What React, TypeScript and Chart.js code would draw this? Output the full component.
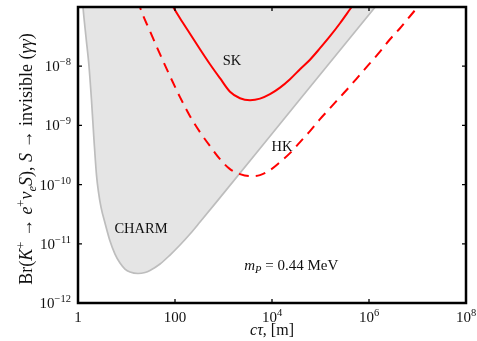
import React, { useEffect, useRef } from "react";
import { Chart, registerables } from "chart.js";

Chart.register(...registerables);

// ---- data ----
const charmX = [1.153, 1.268, 1.462, 1.686, 1.898, 2.138, 2.407, 2.646, 2.98, 3.604, 4.57, 5.79, 7.35, 9.31, 11.81, 17.27, 24.07, 30.5, 49.1, 78.9, 126.8, 203.9, 327.7, 770, 3.78e4, 1.33e6, 2.14e6];
const charmY = [2.83e-7, 9.9e-8, 3.09e-8, 1.0e-8, 2.67e-9, 5.64e-10, 1.445e-10, 7.47e-11, 4.17e-11, 2.24e-11, 1.112e-11, 6.71e-12, 4.73e-12, 3.75e-12, 3.34e-12, 3.15e-12, 3.27e-12, 3.54e-12, 4.55e-12, 6.46e-12, 9.53e-12, 1.461e-11, 2.33e-11, 5.47e-11, 2.77e-9, 9.9e-8, 1.61e-7];

const skX = [71.7, 90.9, 126.8, 203.9, 327.7, 526.7, 847, 1361, 2188, 3520, 5657, 9096, 1.462e4, 2.35e4, 3.78e4, 6.07e4, 9.77e4, 1.571e5, 2.525e5, 4.06e5, 6.52e5];
const skY = [1.406e-7, 1.01e-7, 6.46e-8, 3.54e-8, 1.936e-8, 1.081e-8, 6.27e-9, 3.71e-9, 2.88e-9, 2.67e-9, 2.83e-9, 3.37e-9, 4.34e-9, 6.03e-9, 8.9e-9, 1.288e-8, 2.012e-8, 3.21e-8, 5.32e-8, 9.16e-8, 1.579e-7];

const hkX = [17.27, 18.98, 30.5, 49.1, 78.9, 126.8, 203.9, 327.7, 526.7, 847, 1361, 2188, 3520, 5657, 9096, 1.462e4, 2.35e4, 3.78e4, 6.07e4, 9.77e4, 1.571e5, 2.525e5, 4.06e5, 6.52e5, 1.049e6, 1.686e6, 2.71e6, 4.36e6, 7.0e6, 1.126e7];
const hkY = [1.3e-7, 9.9e-8, 3.9e-8, 1.594e-8, 6.78e-9, 3.0e-9, 1.432e-9, 7.69e-10, 4.47e-10, 2.69e-10, 1.827e-10, 1.503e-10, 1.391e-10, 1.445e-10, 1.757e-10, 2.4e-10, 3.4e-10, 5.22e-10, 8.0e-10, 1.275e-9, 1.954e-9, 3.0e-9, 4.6e-9, 7.19e-9, 1.124e-8, 1.757e-8, 2.855e-8, 4.38e-8, 6.98e-8, 1.112e-7];

const xTicks = [1, 100, 1e4, 1e6, 1e8];
const xTickBase = ["1", "100", "10", "10", "10"];
const xTickExp = ["", "", "4", "6", "8"];
const yTicks = [1e-12, 1e-11, 1e-10, 1e-9, 1e-8, 1e-7];
const yTickBase = ["10", "10", "10", "10", "10", ""];
const yTickExp = ["−12", "−11", "−10", "−9", "−8", ""];

// annotation anchors in data coordinates
const labelSK = { x: 1500, y: 1.26e-8 };
const labelHK = { x: 1.6e4, y: 4.5e-10 };
const labelCHARM = { x: 19.9, y: 1.85e-11 };
const labelMass = { x: 2.5e4, y: 4.2e-12 };

const FONT = '"Liberation Serif", "DejaVu Serif", serif';

type Seg = { t: string; it?: boolean; sup?: boolean; sub?: boolean };

function segFont(s: Seg, size: number) {
  const sz = s.sup || s.sub ? size * 0.7 : size;
  return `${s.it ? "italic " : ""}${sz}px ${FONT}`;
}

// draws rich text on the alphabetic baseline y; align: 'center' | 'right'
function drawRich(ctx: CanvasRenderingContext2D, segs: Seg[], x: number, y: number, size: number, align = "center") {
  let total = 0;
  const widths = segs.map((s) => {
    ctx.font = segFont(s, size);
    const w = ctx.measureText(s.t).width;
    total += w;
    return w;
  });
  let cx = align === "right" ? x - total : x - total / 2;
  ctx.textAlign = "left";
  ctx.textBaseline = "alphabetic";
  segs.forEach((s, i) => {
    ctx.font = segFont(s, size);
    let dy = 0;
    if (s.sup) dy = -size * 0.4;
    if (s.sub) dy = size * 0.22;
    ctx.fillText(s.t, cx, y + dy);
    cx += widths[i];
  });
}

const yTitle: Seg[] = [
  { t: "Br(" },
  { t: "K", it: true },
  { t: "+", sup: true },
  { t: " → " },
  { t: "e", it: true },
  { t: "+", sup: true },
  { t: "ν", it: true },
  { t: "e", it: true, sub: true },
  { t: "S", it: true },
  { t: "), " },
  { t: "S", it: true },
  { t: " → invisible (" },
  { t: "γγ", it: true },
  { t: ")" },
];
const xTitle: Seg[] = [{ t: "cτ", it: true }, { t: ", [m]" }];
const massText: Seg[] = [{ t: "m", it: true }, { t: "P", it: true, sub: true }, { t: " = 0.44 MeV" }];

const overlay = {
  id: "overlay",
  afterDraw(chart: any) {
    const { ctx, chartArea: a, scales } = chart;
    const sx = scales.x;
    const sy = scales.y;
    ctx.save();
    ctx.strokeStyle = "#000";
    ctx.lineWidth = 1.3;
    ctx.beginPath();
    xTicks.forEach((v) => {
      const p = sx.getPixelForValue(v);
      ctx.moveTo(p, a.bottom);
      ctx.lineTo(p, a.bottom - 4);
      ctx.moveTo(p, a.top);
      ctx.lineTo(p, a.top + 4);
    });
    yTicks.forEach((v) => {
      const p = sy.getPixelForValue(v);
      ctx.moveTo(a.left, p);
      ctx.lineTo(a.left + 4, p);
      ctx.moveTo(a.right, p);
      ctx.lineTo(a.right - 4, p);
    });
    ctx.stroke();
    ctx.lineWidth = 2.5;
    ctx.strokeRect(a.left, a.top, a.right - a.left, a.bottom - a.top);

    ctx.fillStyle = "#111";
    // tick labels
    xTicks.forEach((v, i) => {
      const p = sx.getPixelForValue(v);
      const segs: Seg[] = [{ t: xTickBase[i] }];
      if (xTickExp[i]) segs.push({ t: xTickExp[i], sup: true });
      drawRich(ctx, segs, p, a.bottom + 19, 15);
    });
    yTicks.forEach((v, i) => {
      if (!yTickBase[i]) return;
      const p = sy.getPixelForValue(v);
      drawRich(ctx, [{ t: yTickBase[i] }, { t: yTickExp[i], sup: true }], a.left - 7, p + 5, 15, "right");
    });

    const at = (p: { x: number; y: number }) => [sx.getPixelForValue(p.x), sy.getPixelForValue(p.y)];
    let [px, py] = at(labelSK);
    drawRich(ctx, [{ t: "SK" }], px, py + 5, 14.5);
    [px, py] = at(labelHK);
    drawRich(ctx, [{ t: "HK" }], px, py + 5, 14.5);
    [px, py] = at(labelCHARM);
    drawRich(ctx, [{ t: "CHARM" }], px, py + 5, 14.5);
    [px, py] = at(labelMass);
    drawRich(ctx, massText, px, py + 4, 15);

    // axis titles
    drawRich(ctx, xTitle, (a.left + a.right) / 2, 335, 16);
    ctx.translate(32, 159);
    ctx.rotate(-Math.PI / 2);
    drawRich(ctx, yTitle, 0, 0, 18);
    ctx.restore();
  },
};

export default function App() {
  const ref = useRef<HTMLCanvasElement | null>(null);
  useEffect(() => {
    if (!ref.current) return;
    const pts = (xs: number[], ys: number[]) => xs.map((x, i) => ({ x, y: ys[i] }));
    const chart = new Chart(ref.current, {
      type: "line",
      data: {
        datasets: [
          {
            label: "SK",
            data: pts(skX, skY),
            borderColor: "#ff0000",
            borderWidth: 2,
            pointRadius: 0,
            fill: false,
            cubicInterpolationMode: "monotone",
          },
          {
            label: "HK",
            data: pts(hkX, hkY),
            borderColor: "#ff0000",
            borderWidth: 2,
            borderDash: [10, 7],
            pointRadius: 0,
            fill: false,
            cubicInterpolationMode: "monotone",
          },
          {
            label: "CHARM",
            data: pts(charmX, charmY),
            borderColor: "#bdbdbd",
            backgroundColor: "#e5e5e5",
            borderWidth: 1.7,
            pointRadius: 0,
            fill: "end",
            cubicInterpolationMode: "monotone",
          },
        ],
      },
      options: {
        animation: false,
        responsive: false,
        events: [],
        layout: { padding: { top: 7, right: 11, left: 0, bottom: 0 } },
        plugins: { legend: { display: false }, tooltip: { enabled: false } },
        scales: {
          x: {
            type: "logarithmic",
            min: 1,
            max: 1e8,
            afterBuildTicks: (s: any) => {
              s.ticks = xTicks.map((v) => ({ value: v }));
            },
            afterFit: (s: any) => {
              s.height = 38;
            },
            grid: { display: false, drawTicks: false },
            border: { display: false },
            ticks: { display: false },
          },
          y: {
            type: "logarithmic",
            min: 1e-12,
            max: 1e-7,
            afterBuildTicks: (s: any) => {
              s.ticks = yTicks.map((v) => ({ value: v }));
            },
            afterFit: (s: any) => {
              s.width = 78;
            },
            grid: { display: false, drawTicks: false },
            border: { display: false },
            ticks: { display: false },
          },
        },
      },
      plugins: [overlay],
    } as any);
    return () => chart.destroy();
  }, []);
  return (
    <div style={{ position: "fixed", left: 0, top: 0, width: 477, height: 341, background: "#fff" }}>
      <canvas ref={ref} width={477} height={341} style={{ display: "block" }} />
    </div>
  );
}
